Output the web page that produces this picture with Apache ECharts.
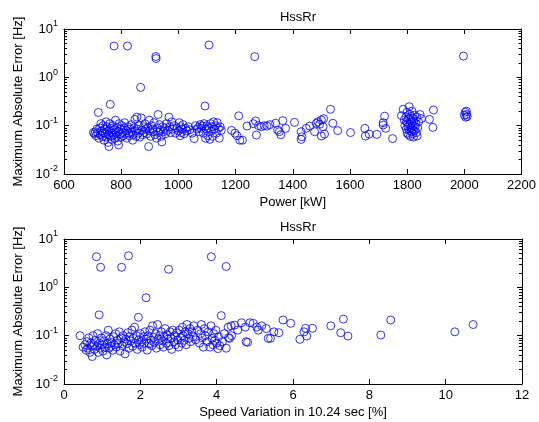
<!DOCTYPE html>
<html>
<head>
<meta charset="utf-8">
<script src="https://cdn.jsdelivr.net/npm/echarts@6/dist/echarts.min.js"></script>
<style>
  html, body { margin: 0; padding: 0; background: #fff; }
  #main { width: 539px; height: 422px; }
</style>
</head>
<body>
<div id="main"></div>
<script>
// top plot: power [kW] vs max abs error [Hz]
const powerPoints = [
  [703,0.072],[707,0.068],[710,0.075],[712,0.062],[715,0.085],[718,0.07],[720,0.187],[722,0.055],[725,0.09],[727,0.065],
  [729,0.11],[732,0.078],[734,0.06],[736,0.1],[738,0.072],[740,0.05],[742,0.085],[745,0.068],[747,0.12],[748,0.058],
  [750,0.095],[752,0.075],[754,0.045],[756,0.065],[757,0.037],[758,0.08],[760,0.11],[762,0.276],[763,0.06],[765,0.088],
  [767,0.052],[769,0.07],[771,0.1],[773,0.064],[775,4.45],[776,0.082],[778,0.055],[780,0.13],[782,0.072],[784,0.06],
  [786,0.09],[788,0.048],[790,0.075],[791,0.04],[793,0.11],[795,0.066],[797,0.085],[800,0.058],[802,0.1],[805,0.072],
  [807,0.062],[810,0.09],[812,0.115],[815,0.068],[818,0.08],[820,0.055],[822,4.45],[824,0.095],[826,0.07],[829,0.062],
  [832,0.085],[835,0.105],[838,0.075],[840,0.05],[842,0.065],[845,0.09],[848,0.135],[850,0.078],[852,0.06],[855,0.15],
  [857,0.085],[860,0.07],[862,0.1],[865,0.058],[868,0.62],[870,0.145],[872,0.08],[875,0.065],[878,0.095],[880,0.072],
  [883,0.11],[886,0.085],[890,0.068],[893,0.09],[896,0.037],[898,0.13],[900,0.078],[903,0.06],[906,0.1],[910,0.085],
  [912,0.075],[915,0.115],[918,0.065],[921,2.7],[922,2.45],[924,0.055],[926,0.09],[929,0.17],[931,0.072],[934,0.105],
  [937,0.08],[940,0.06],[942,0.046],[945,0.095],[948,0.075],[952,0.088],[955,0.068],[958,0.11],[962,0.08],[967,0.15],
  [970,0.095],[973,0.072],[977,0.12],[980,0.085],[985,0.1],[990,0.07],[995,0.09],[1000,0.078],[1003,0.115],[1006,0.062],
  [1008,0.095],[1010,0.072],[1013,0.085],[1016,0.105],[1020,0.068],[1025,0.088],[1030,0.078],[1035,0.095],[1040,0.082],[1048,0.07],
  [1055,0.054],[1060,0.1],[1065,0.085],[1070,0.092],[1073,0.075],[1076,0.105],[1080,0.088],[1083,0.098],[1087,0.07],[1090,0.11],
  [1093,0.255],[1095,0.055],[1098,0.085],[1100,0.1],[1103,0.062],[1105,0.09],[1107,4.67],[1110,0.052],[1112,0.11],[1115,0.078],
  [1118,0.095],[1120,0.06],[1123,0.12],[1126,0.085],[1130,0.1],[1133,0.07],[1136,0.115],[1140,0.088],[1143,0.055],[1146,0.095],
  [1150,0.08],[1186,0.08],[1198,0.07],[1205,0.062],[1211,0.16],[1215,0.05],[1224,0.05],[1240,0.098],[1262,0.11],[1267,2.68],
  [1270,0.125],[1273,0.064],[1280,0.1],[1290,0.095],[1300,0.1],[1310,0.098],[1320,0.105],[1340,0.112],[1347,0.081],[1353,0.075],
  [1358,0.065],[1365,0.127],[1375,0.088],[1406,0.117],[1429,0.075],[1429,0.052],[1432,0.059],[1447,0.088],[1459,0.098],[1476,0.075],
  [1482,0.112],[1488,0.12],[1494,0.107],[1500,0.131],[1500,0.061],[1506,0.095],[1508,0.14],[1511,0.067],[1532,0.218],[1540,0.112],
  [1557,0.079],[1602,0.072],[1652,0.088],[1654,0.061],[1667,0.067],[1694,0.066],[1716,0.103],[1716,0.115],[1721,0.157],[1725,0.088],
  [1749,0.054],[1780,0.161],[1786,0.218],[1790,0.13],[1792,0.1],[1795,0.15],[1797,0.085],[1798,0.12],[1800,0.07],[1800,0.19],
  [1802,0.11],[1803,0.095],[1805,0.14],[1805,0.065],[1807,0.247],[1808,0.08],[1809,0.17],[1810,0.105],[1811,0.06],[1812,0.13],
  [1813,0.09],[1814,0.155],[1815,0.075],[1816,0.115],[1817,0.2],[1818,0.085],[1819,0.068],[1820,0.14],[1821,0.1],[1822,0.058],
  [1823,0.125],[1825,0.078],[1826,0.165],[1828,0.095],[1830,0.11],[1832,0.072],[1834,0.15],[1835,0.061],[1837,0.09],[1840,0.12],
  [1845,0.17],[1850,0.14],[1878,0.135],[1890,0.092],[1892,0.211],[1997,2.75],[2000,0.165],[2003,0.19],[2005,0.15],[2007,0.2],
  [2008,0.17],[2010,0.155]
];

// bottom plot: speed variation [%] vs max abs error [Hz]
const speedPoints = [
  [0.42,0.1],[0.5,0.058],[0.55,0.065],[0.58,0.05],[0.6,0.075],[0.62,0.055],[0.65,0.09],[0.68,0.045],[0.7,0.07],[0.72,0.06],
  [0.74,0.037],[0.76,0.1],[0.78,0.065],[0.8,0.052],[0.82,0.08],[0.85,4.3],[0.86,0.06],[0.88,0.11],[0.9,0.045],[0.92,0.27],
  [0.93,0.07],[0.95,0.055],[0.96,2.6],[0.98,0.09],[1.0,0.065],[1.02,0.048],[1.05,0.078],[1.07,0.058],[1.1,0.1],[1.12,0.04],
  [1.14,0.068],[1.16,0.13],[1.18,0.055],[1.2,0.085],[1.23,0.06],[1.25,0.072],[1.28,0.05],[1.3,0.095],[1.32,0.065],[1.35,0.11],
  [1.37,0.058],[1.4,0.08],[1.42,0.07],[1.45,0.12],[1.47,0.048],[1.5,0.09],[1.51,2.6],[1.53,0.062],[1.55,0.1],[1.58,0.075],
  [1.6,0.042],[1.62,0.085],[1.65,0.068],[1.67,0.115],[1.69,4.5],[1.7,0.055],[1.72,0.095],[1.75,0.078],[1.78,0.13],[1.8,0.06],
  [1.82,0.088],[1.85,0.15],[1.87,0.07],[1.9,0.1],[1.92,0.052],[1.95,0.24],[1.96,0.082],[1.98,0.065],[2.0,0.11],[2.03,0.075],
  [2.05,0.058],[2.08,0.095],[2.1,0.07],[2.12,0.12],[2.15,0.61],[2.16,0.085],[2.18,0.05],[2.2,0.1],[2.23,0.068],[2.25,0.13],
  [2.28,0.08],[2.3,0.062],[2.32,0.16],[2.35,0.092],[2.37,0.072],[2.4,0.11],[2.42,0.055],[2.45,0.17],[2.47,0.085],[2.5,0.1],
  [2.52,0.065],[2.55,0.12],[2.58,0.078],[2.6,0.058],[2.62,0.095],[2.65,0.14],[2.68,0.07],[2.7,0.105],[2.72,0.085],[2.74,2.36],
  [2.75,0.062],[2.78,0.12],[2.8,0.09],[2.82,0.052],[2.85,0.13],[2.88,0.075],[2.9,0.1],[2.92,0.065],[2.95,0.115],[2.98,0.082],
  [3.0,0.058],[3.02,0.13],[3.05,0.092],[3.08,0.07],[3.1,0.15],[3.12,0.1],[3.15,0.08],[3.18,0.12],[3.2,0.065],[3.22,0.17],
  [3.25,0.11],[3.28,0.088],[3.3,0.14],[3.32,0.075],[3.35,0.12],[3.38,0.095],[3.4,0.16],[3.45,0.082],[3.5,0.13],[3.55,0.07],
  [3.58,0.11],[3.6,0.17],[3.62,0.09],[3.65,0.058],[3.68,0.14],[3.7,0.1],[3.75,0.075],[3.78,0.12],[3.82,0.058],[3.85,0.16],
  [3.86,4.3],[3.88,0.088],[3.9,0.065],[3.92,0.11],[3.95,0.08],[3.98,0.13],[4.0,0.07],[4.03,0.054],[4.05,0.095],[4.08,0.062],
  [4.12,0.26],[4.15,0.075],[4.2,0.11],[4.25,2.7],[4.25,0.055],[4.3,0.15],[4.31,0.091],[4.34,0.088],[4.38,0.16],[4.39,0.1],
  [4.47,0.165],[4.55,0.13],[4.65,0.185],[4.75,0.15],[4.77,0.075],[4.81,0.073],[4.87,0.185],[4.96,0.18],[5.05,0.15],[5.09,0.13],
  [5.18,0.16],[5.3,0.14],[5.35,0.088],[5.41,0.088],[5.5,0.12],[5.63,0.115],[5.74,0.211],[5.94,0.18],[6.18,0.084],[6.29,0.12],
  [6.33,0.142],[6.36,0.098],[6.51,0.142],[6.99,0.16],[7.25,0.115],[7.32,0.22],[7.44,0.098],[8.3,0.103],[8.56,0.211],[10.24,0.12],
  [10.72,0.17]
];

const plotTitles = ['HssRr', 'HssRr'];
const xNames = ['Power [kW]', 'Speed Variation in 10.24 sec [%]'];
const yName = 'Maximum Absolute Error [Hz]';
const xRanges = [[600, 2200, 200], [0, 12, 2]];
const yDecades = [-2, 1]; // log10 of y min / max

// tick positions (log10 space) for the box's minor ticks
const minorTicks = [];
const allTicks = [];
for (let d = yDecades[0]; d < yDecades[1]; d++) {
  allTicks.push(d);
  for (let k = 2; k <= 9; k++) minorTicks.push(d + Math.log10(k));
}
allTicks.push(yDecades[1]);

const font = 'Liberation Sans, Arial, sans-serif';
const black = '#000';
const fs = 13;

const grids = [
  { left: 64, top: 29, width: 458, height: 145 },
  { left: 64, top: 239, width: 458, height: 145 }
];

const line = { onZero: false, lineStyle: { color: black, width: 1 } };
const noLine = { show: false, onZero: false };

const xAxes = [];
const yAxes = [];
grids.forEach((g, i) => {
  const [mn, mx, step] = xRanges[i];
  xAxes.push({
    type: 'value', gridIndex: i, position: 'bottom', min: mn, max: mx, interval: step,
    name: xNames[i], nameLocation: 'middle', nameGap: 22,
    nameTextStyle: { fontFamily: font, fontSize: fs, color: black },
    axisLine: line,
    axisTick: { inside: true, length: 5, lineStyle: { color: black } },
    axisLabel: { fontFamily: font, fontSize: fs, color: black, margin: 5, formatter: v => String(v) },
    splitLine: { show: false }
  });
  xAxes.push({
    type: 'value', gridIndex: i, position: 'top', min: mn, max: mx, interval: step,
    axisLine: line,
    axisTick: { inside: true, length: 5, lineStyle: { color: black } },
    axisLabel: { show: false },
    splitLine: { show: false }
  });
  yAxes.push({
    type: 'log', gridIndex: i, position: 'left', logBase: 10,
    min: Math.pow(10, yDecades[0]), max: Math.pow(10, yDecades[1]),
    name: yName, nameLocation: 'middle', nameGap: 35, nameRotate: 90,
    nameTextStyle: { fontFamily: font, fontSize: fs, color: black },
    axisLine: line,
    axisTick: { inside: true, length: 5, lineStyle: { color: black } },
    axisLabel: {
      fontFamily: font, fontSize: fs, color: black, margin: 6,
      formatter: v => '10{sup|' + Math.round(Math.log10(v)) + '}',
      rich: { sup: { fontFamily: font, fontSize: 9, color: black, padding: [0, 0, 10, 0] } }
    },
    splitLine: { show: false }
  });
  yAxes.push({
    type: 'value', gridIndex: i, position: 'right', min: yDecades[0], max: yDecades[1],
    axisLine: line,
    axisTick: { inside: true, length: 3, customValues: minorTicks, lineStyle: { color: black } },
    axisLabel: { show: false },
    splitLine: { show: false }
  });
  yAxes.push({
    type: 'value', gridIndex: i, position: 'right', min: yDecades[0], max: yDecades[1],
    axisLine: noLine,
    axisTick: { inside: true, length: 5, customValues: allTicks, lineStyle: { color: black } },
    axisLabel: { show: false },
    splitLine: { show: false }
  });
  yAxes.push({
    type: 'value', gridIndex: i, position: 'left', min: yDecades[0], max: yDecades[1],
    axisLine: noLine,
    axisTick: { inside: true, length: 3, customValues: minorTicks, lineStyle: { color: black } },
    axisLabel: { show: false },
    splitLine: { show: false }
  });
});

const scatterStyle = {
  type: 'scatter', symbol: 'circle', symbolSize: 8,
  itemStyle: { color: 'rgba(0,0,0,0)', borderColor: '#0000ff', borderWidth: 1 },
  emphasis: { disabled: true }
};

const chart = echarts.init(document.getElementById('main'), null, { renderer: 'canvas' });
chart.setOption({
  backgroundColor: '#fff',
  animation: false,
  title: plotTitles.map((t, i) => ({
    text: t, left: 293, top: i === 0 ? 6 : 216, textAlign: 'center',
    textStyle: { fontFamily: font, fontSize: fs, fontWeight: 'normal', color: black }
  })),
  grid: grids,
  xAxis: xAxes,
  yAxis: yAxes,
  series: [
    Object.assign({}, scatterStyle, { xAxisIndex: 0, yAxisIndex: 0, data: powerPoints }),
    Object.assign({}, scatterStyle, { xAxisIndex: 2, yAxisIndex: 4, data: speedPoints })
  ]
});
</script>
</body>
</html>
